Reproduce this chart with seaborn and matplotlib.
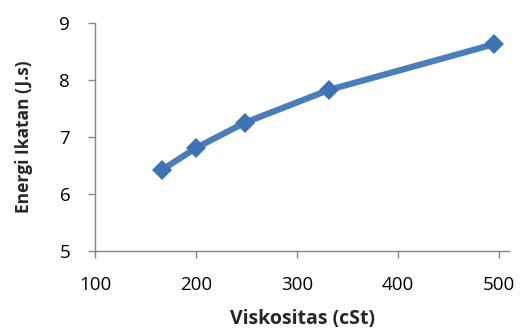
import pandas as pd
import matplotlib
matplotlib.use('Agg')
import matplotlib.pyplot as plt
import seaborn as sns

# Data
viskositas = [166, 200, 248, 332, 495]
energi = [6.42, 6.81, 7.25, 7.83, 8.63]
x_ticks = [100, 200, 300, 400, 500]
y_ticks = [5, 6, 7, 8, 9]

data = pd.DataFrame({'viskositas': viskositas, 'energi': energi})

sns.set_style('white')
plt.rcParams['font.family'] = ['Open Sans', 'DejaVu Sans']

fig = plt.figure(figsize=(5.2, 3.31), dpi=100)
ax = fig.add_axes([0.183, 0.242, 0.796, 0.688])

sns.lineplot(x='viskositas', y='energi', data=data, ax=ax, color='#4A7EBB',
             linewidth=4.5, marker='D', markersize=10, markeredgewidth=0,
             markerfacecolor='#3D72B5')

ax.set_xlim(100, 510)
ax.set_ylim(5, 9)
ax.set_xticks(x_ticks)
ax.set_yticks(y_ticks)
ax.tick_params(axis='both', direction='out', length=5, width=1, color='#868686',
               labelsize=13.5, labelcolor='black', bottom=True, left=True)
ax.tick_params(axis='x', pad=13)
ax.tick_params(axis='y', pad=13)
for side in ['top', 'right']:
    ax.spines[side].set_visible(False)
for side in ['left', 'bottom']:
    ax.spines[side].set_color('#868686')
    ax.spines[side].set_linewidth(1)

ax.set_xlabel('Viskositas (cSt)', fontsize=14, fontweight='bold', labelpad=11)
ax.set_ylabel('Energi Ikatan (J.s)', fontsize=12.5, fontweight='bold', labelpad=19)

plt.savefig('out.png', dpi=100)
